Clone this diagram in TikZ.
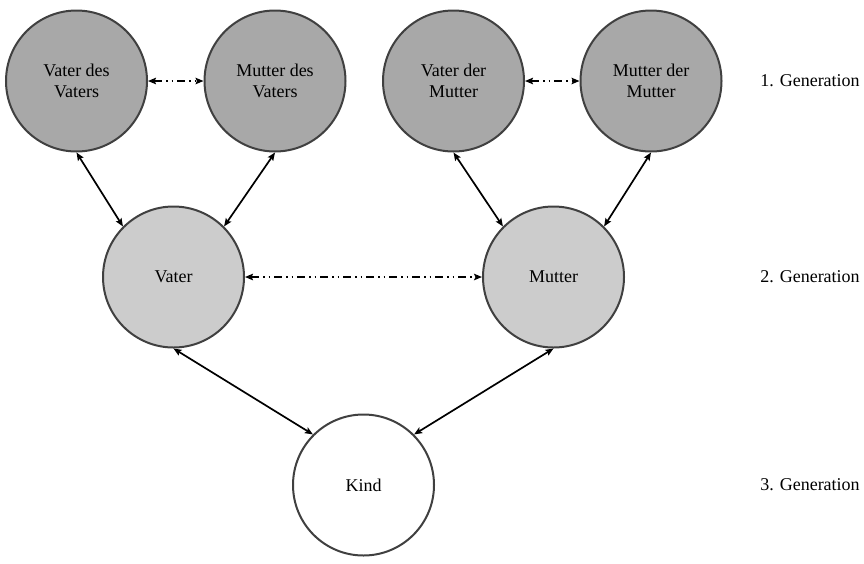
\documentclass[tikz,border=0pt]{standalone}
\usepackage{fontspec}
\setmainfont{Liberation Serif}
\usetikzlibrary{arrows.meta}

\definecolor{elderfill}{RGB}{168,168,168}
\definecolor{parentfill}{RGB}{204,204,204}
\definecolor{rim}{RGB}{64,64,64}

\tikzset{
  person/.style={circle, draw=rim, line width=2pt, minimum size=141pt,
    inner sep=0pt, align=center, font=\fontsize{18}{21.6}\selectfont},
  elder/.style={person, fill=elderfill},
  parent/.style={person, fill=parentfill},
  child/.style={person, fill=white},
  genlabel/.style={font=\fontsize{18}{21.6}\selectfont, anchor=center},
  famtip/.tip={Stealth[length=8pt, width=6.5pt, inset=1.5pt]},
  descent/.style={famtip-famtip, line width=1.7pt, black},
  partners/.style={famtip-famtip, line width=2.8pt, black,
    dash pattern=on 8pt off 4pt on 1.5pt off 4pt on 1.5pt off 4pt}
}

\begin{document}
\begin{tikzpicture}[x=1pt, y=-1pt]
  \useasboundingbox (0,0) rectangle (864,563);

  % grandparents
  \node[elder] (vv) at (76.5,81) {Vater des\\Vaters};
  \node[elder] (mv) at (275,81) {Mutter des\\Vaters};
  \node[elder] (vm) at (453.5,81) {Vater der\\Mutter};
  \node[elder] (mm) at (651,81) {Mutter der\\Mutter};

  % parents
  \node[parent] (vater) at (173.5,277) {Vater};
  \node[parent] (mutter) at (553.5,277) {Mutter};

  % child
  \node[child] (kind) at (363.5,485) {Kind};

  % generation labels
  \node[genlabel] (g1) at (810,81) {1. Generation};
  \node[genlabel] (g2) at (810,277) {2. Generation};
  \node[genlabel] (g3) at (810,485) {3. Generation};

  % couples
  \draw[partners] (vv.east) -- (mv.west);
  \draw[partners] (vm.east) -- (mm.west);
  \draw[partners] (vater.east) -- (mutter.west);

  % descent
  \draw[descent] (vv.south) -- (vater.north west);
  \draw[descent] (mv.south) -- (vater.north east);
  \draw[descent] (vm.south) -- (mutter.north west);
  \draw[descent] (mm.south) -- (mutter.north east);
  \draw[descent] (vater.south) -- (kind.north west);
  \draw[descent] (mutter.south) -- (kind.north east);
\end{tikzpicture}
\end{document}
